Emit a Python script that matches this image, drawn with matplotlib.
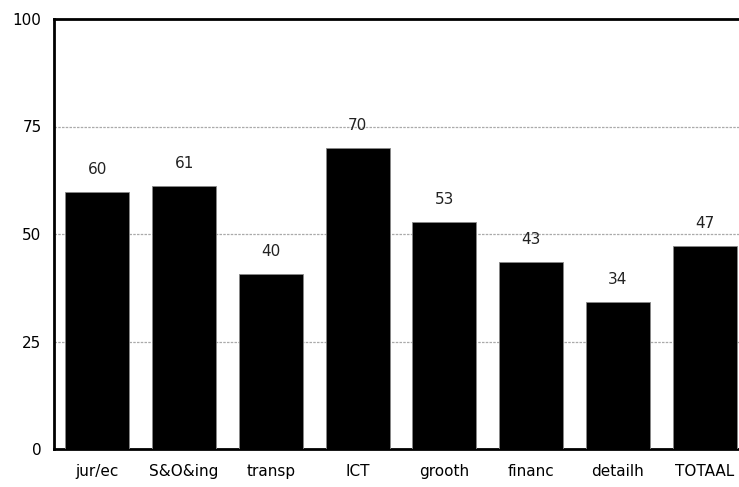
import matplotlib
matplotlib.use("Agg")
import matplotlib.pyplot as plt

categories = ["jur/ec", "S&O&ing", "transp", "ICT", "grooth", "financ", "detailh", "TOTAAL"]
values = [59.8, 61.2, 40.7, 70.0, 52.8, 43.5, 34.2, 47.2]
labels = ["60", "61", "40", "70", "53", "43", "34", "47"]
yticks = [0, 25, 50, 75, 100]

plt.rcParams['font.family'] = ['DejaVu Sans']

fig = plt.figure(figsize=(7.39, 4.87), dpi=100)
# axes runs past the right edge of the figure, as in the original
ax = fig.add_axes([54 / 739, 38 / 487, 694 / 739, 430 / 487])

x = range(len(categories))
ax.bar(x, values, width=0.74, color="black", edgecolor="#888888", linewidth=0.6, zorder=3)

for xi, v, lab in zip(x, values, labels):
    ax.text(xi, v + 3.5, lab, ha="center", va="bottom", fontsize=11, color="#222222")

ax.set_xlim(-0.5, len(categories) - 0.5)
ax.set_ylim(0, 100)
ax.set_yticks(yticks)
ax.set_yticklabels([str(t) for t in yticks], fontsize=11)
ax.set_xticks(list(x))
ax.set_xticklabels(categories, fontsize=11)
ax.tick_params(axis="both", length=0)
ax.tick_params(axis="x", pad=11)
ax.tick_params(axis="y", pad=9)

for yv in yticks[1:-1]:
    ax.axhline(yv, color="#aaaaaa", linewidth=0.9, linestyle=(0, (2, 1)), zorder=1)

for side in ["left", "bottom", "top"]:
    ax.spines[side].set_linewidth(2)
    ax.spines[side].set_color("black")
ax.spines["right"].set_visible(False)

fig.savefig("out.png", dpi=100)
